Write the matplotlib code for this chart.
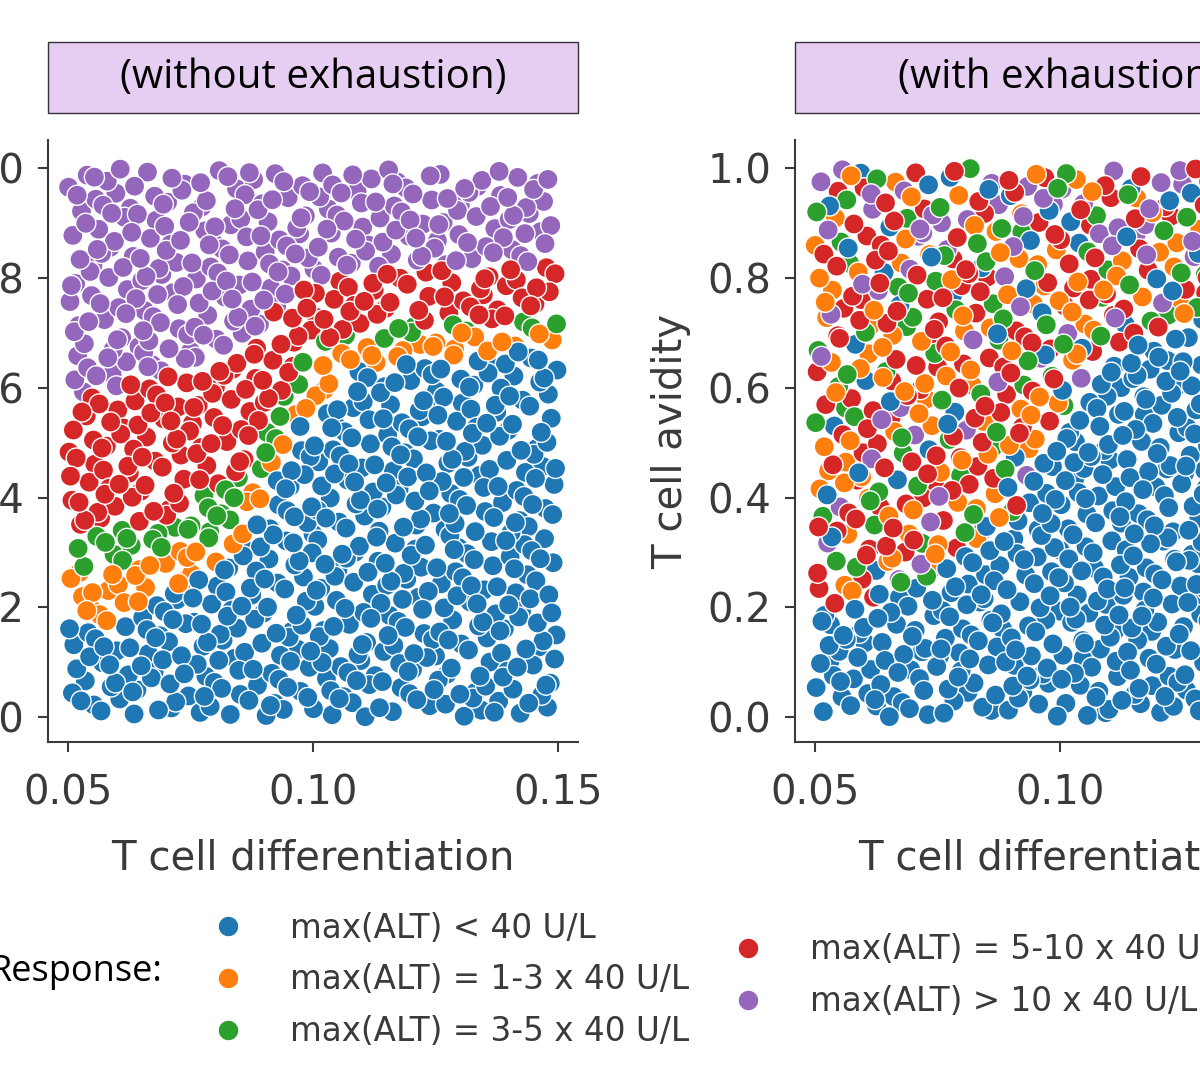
import numpy as np
import matplotlib
matplotlib.use("Agg")
import matplotlib.pyplot as plt
from matplotlib.patches import Rectangle
from matplotlib.lines import Line2D

# ---- data: class boundaries ----
bx = [0.05, 0.06, 0.07, 0.08, 0.085, 0.09, 0.095, 0.10, 0.11, 0.13, 0.15]
left_blue   = [0.17, 0.17, 0.22, 0.28, 0.32, 0.40, 0.50, 0.58, 0.64, 0.66, 0.68]
left_orange = [0.27, 0.26, 0.30, 0.33, 0.37, 0.45, 0.55, 0.64, 0.68, 0.70, 0.71]
left_green  = [0.33, 0.34, 0.36, 0.42, 0.45, 0.52, 0.62, 0.68, 0.71, 0.72, 0.73]
left_red    = [0.58, 0.60, 0.63, 0.66, 0.68, 0.72, 0.77, 0.80, 0.82, 0.82, 0.82]
right_blue  = [0.20, 0.21, 0.23, 0.30, 0.33, 0.36, 0.45, 0.55, 0.66, 0.75, 0.78]

categories = ["max(ALT) < 40 U/L", "max(ALT) = 1-3 x 40 U/L", "max(ALT) = 3-5 x 40 U/L",
              "max(ALT) = 5-10 x 40 U/L", "max(ALT) > 10 x 40 U/L"]
colors = ["#1f77b4", "#ff7f0e", "#2ca02c", "#d62728", "#9467bd"]
xticks = [0.05, 0.10, 0.15]
yticks = [0.0, 0.2, 0.4, 0.6, 0.8, 1.0]

def halton(n, base, start):
    out = []
    for i in range(start, start + n):
        f, r = 1.0, 0.0
        while i > 0:
            f /= base
            r += f * (i % base)
            i //= base
        out.append(r)
    return np.array(out)

N = 950
def sample(start):
    x = 0.05 + 0.10 * halton(N, 2, start)
    y = halton(N, 3, start)
    return x, y

xl, yl = sample(1)
cl = np.full(N, 4)
cl[yl < np.interp(xl, bx, left_red)] = 3
cl[yl < np.interp(xl, bx, left_green)] = 2
cl[yl < np.interp(xl, bx, left_orange)] = 1
cl[yl < np.interp(xl, bx, left_blue)] = 0

xr, yr = sample(2000)
top_pat = [4, 3, 4, 0, 2, 3, 1]
mid_pat = [3, 1, 3, 2, 4, 1, 3, 0, 1, 3, 2]
cr = np.zeros(N, dtype=int)
for i in range(N):
    if yr[i] < np.interp(xr[i], bx, right_blue):
        cr[i] = 0
    elif yr[i] > 0.85:
        cr[i] = top_pat[i % len(top_pat)]
    else:
        cr[i] = mid_pat[i % len(mid_pat)]

fig = plt.figure(figsize=(12, 10.8), dpi=100)
axl = fig.add_axes([0.04, 0.313, 0.4417, 0.557])
axr = fig.add_axes([0.6625, 0.313, 0.4417, 0.557])

tc = "#3a3a3a"
for ax, x, y, c, title in [(axl, xl, yl, cl, "(without exhaustion)"),
                           (axr, xr, yr, cr, "(with exhaustion)")]:
    ax.scatter(x, y, c=[colors[k] for k in c], s=210, edgecolors="white", linewidths=1.0)
    ax.set_xlim(0.0459, 0.1541)
    ax.set_ylim(-0.0455, 1.051)
    ax.set_xticks(xticks)
    ax.set_xticklabels([f"{t:.2f}" for t in xticks])
    ax.set_yticks(yticks)
    ax.set_yticklabels([f"{t:.1f}" for t in yticks])
    ax.tick_params(labelsize=29, length=7, width=1.5, colors=tc, labelcolor=tc)
    ax.tick_params(axis="x", pad=16)
    ax.tick_params(axis="y", pad=10)
    for s in ["top", "right"]:
        ax.spines[s].set_visible(False)
    for s in ["left", "bottom"]:
        ax.spines[s].set_linewidth(1.5)
        ax.spines[s].set_color(tc)
    ax.set_xlabel("T cell differentiation", fontsize=29, color=tc, labelpad=18)
    ax.add_patch(Rectangle((0, 1.045), 1.0, 0.118, transform=ax.transAxes, clip_on=False,
                           facecolor="#e6cdf2", edgecolor="#333333", linewidth=1))
    ax.text(0.5, 1.104, title, transform=ax.transAxes, ha="center", va="center",
            fontsize=29, family="Open Sans", color="black")
axr.set_ylabel("T cell avidity", fontsize=29, color=tc, labelpad=12)

def handles(idx):
    return [Line2D([], [], marker="o", linestyle="", markersize=15, markerfacecolor=colors[i],
                   markeredgecolor="white") for i in idx]

fig.legend(handles([0, 1, 2]), categories[:3], loc="upper left",
           bbox_to_anchor=(0.138, 0.183), frameon=False, fontsize=23.5,
           labelspacing=0.57, handletextpad=0.92, labelcolor=tc)
fig.legend(handles([3, 4]), categories[3:], loc="upper left",
           bbox_to_anchor=(0.5715, 0.163), frameon=False, fontsize=23.5,
           labelspacing=0.57, handletextpad=0.92, labelcolor=tc)
fig.text(0.135, 1 - 972 / 1080, "Response:", ha="right", va="center", fontsize=26,
         family="Open Sans")

fig.savefig("out.png", dpi=100)
